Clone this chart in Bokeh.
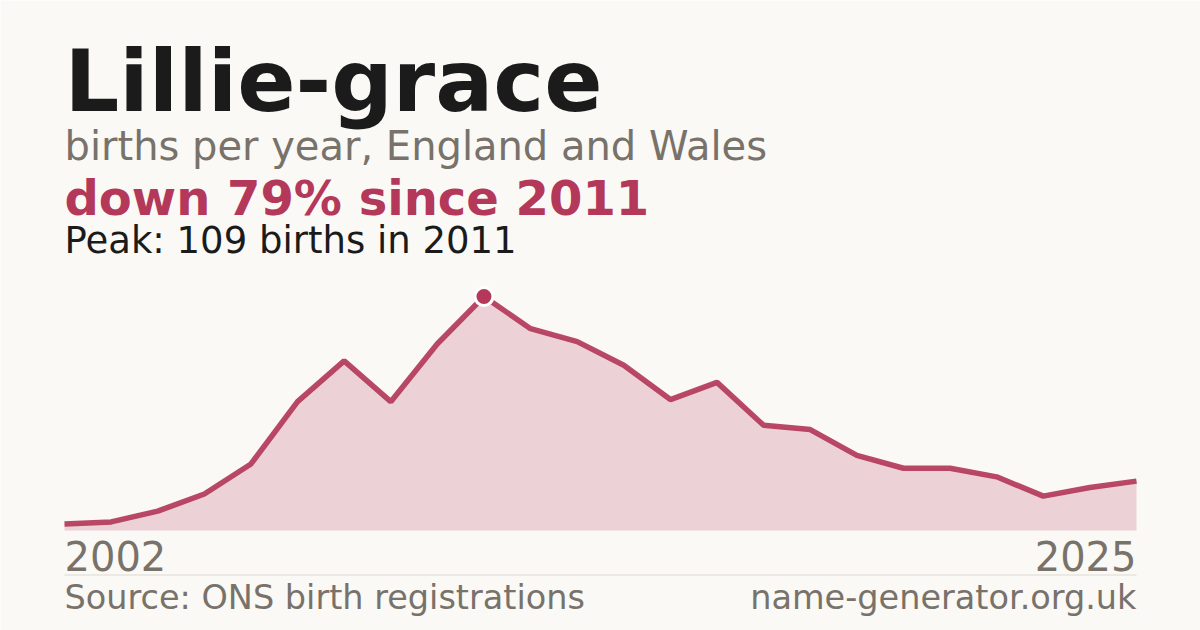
from bokeh.plotting import figure
from bokeh.models import Range1d, Label, BoxAnnotation
from bokeh.embed import file_html
from bokeh.resources import INLINE

# ---- data ----
years = list(range(2002, 2026))
births = [3, 4, 9, 17, 31, 60, 79, 60, 87, 109, 94, 88,
          77, 61, 69, 49, 47, 35, 29, 29, 25, 16, 20, 23]
name = "Lillie-grace"
subtitle = "births per year, England and Wales"
source = "Source: ONS birth registrations"
site = "name-generator.org.uk"

peak_val = max(births)
peak_year = years[births.index(peak_val)]
last_val = births[-1]
change = round((1 - last_val / peak_val) * 100)

# ---- style / layout ----
BG = "#FAF9F5"
CRIMSON = "#B3385A"
DARK = "#1B1B1B"
GRAY = "#78726A"
FONT = "DejaVu Sans"
W, H = 1200, 630
LEFT, RIGHT = 64, 64          # margins (px) to first/last year
BASE = 100                    # px from bottom to zero line
PEAK_PX = 334                 # px from bottom to peak value
SHIFT = 0.37                  # baseline correction (fraction of font size)

ppx = (W - LEFT - RIGHT) / (years[-1] - years[0])
ppy = (PEAK_PX - BASE) / peak_val

p = figure(width=W, height=H, output_backend="svg", toolbar_location=None,
           x_axis_location=None, y_axis_location=None,
           x_range=Range1d(years[0] - LEFT / ppx, years[-1] + RIGHT / ppx),
           y_range=Range1d(-BASE / ppy, (H - BASE) / ppy),
           min_border=0, min_border_left=0, min_border_right=0,
           min_border_top=0, min_border_bottom=0)
p.background_fill_color = BG
p.border_fill_color = BG
p.outline_line_color = None
p.xgrid.visible = False
p.ygrid.visible = False

p.varea(x=years, y1=[0] * len(years), y2=births,
        fill_color=CRIMSON, fill_alpha=0.2)
p.line(years, births, line_color=CRIMSON, line_width=5.5, line_alpha=0.92)
p.scatter([peak_year], [peak_val], size=18, fill_color=CRIMSON,
          line_color="white", line_width=3)

def lab(x, baseline_from_top, text, size, color, bold=False, align="left"):
    y = H - baseline_from_top + SHIFT * size
    p.add_layout(Label(x=x, y=y, x_units="screen", y_units="screen",
                       text=text, text_font=FONT, text_font_size=f"{size}px",
                       text_font_style="bold" if bold else "normal",
                       text_color=color, text_align=align,
                       text_baseline="alphabetic"))

lab(LEFT, 112, name, 86, DARK, bold=True)
lab(LEFT, 160, subtitle, 40, GRAY)
lab(LEFT, 215, f"down {change}% since {peak_year}", 48, CRIMSON, bold=True)
lab(LEFT, 254, f"Peak: {peak_val} births in {peak_year}", 37, DARK)
lab(LEFT, 570, str(years[0]), 40, GRAY)
lab(W - RIGHT, 570, str(years[-1]), 40, GRAY, align="right")
lab(LEFT, 609, source, 33.5, GRAY)
lab(W - RIGHT, 609, site, 33.5, GRAY, align="right")

p.add_layout(BoxAnnotation(left=LEFT, right=W - RIGHT, bottom=55, top=56,
                           left_units="screen", right_units="screen",
                           bottom_units="screen", top_units="screen",
                           fill_color="#DDD9D2", fill_alpha=1, line_color=None))

open("out.html", "w").write(file_html(p, INLINE))
